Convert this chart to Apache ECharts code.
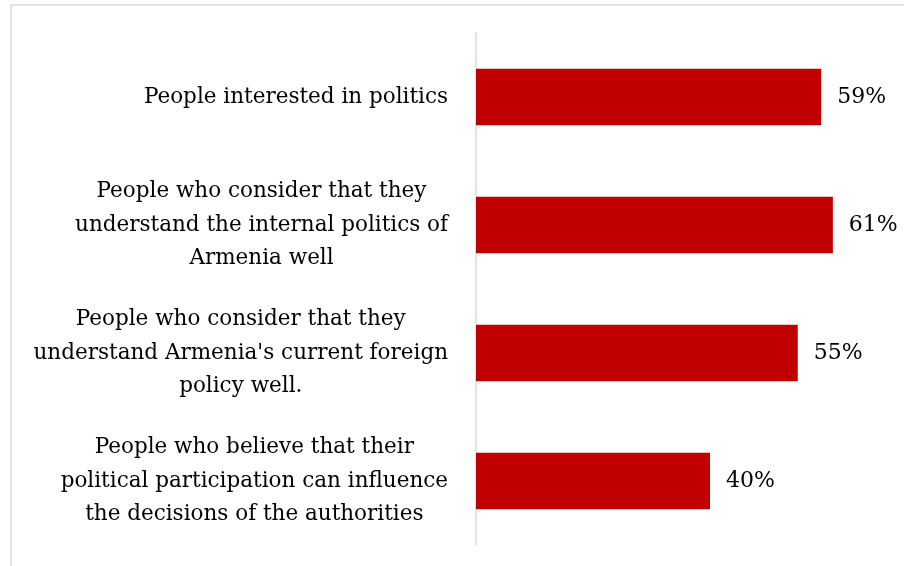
<!DOCTYPE html>
<html>
<head>
<meta charset="utf-8">
<script src="https://cdn.jsdelivr.net/npm/echarts@6/dist/echarts.min.js"></script>
<style>
  html, body { margin: 0; padding: 0; background: #ffffff; }
  #chart { width: 904px; height: 566px; }
</style>
</head>
<body>
<div id="chart"></div>
<script>
// Survey items (one line per text row of the label)
const categories = [
  'People interested in politics',
  'People who consider that they\nunderstand the internal politics of\nArmenia well',
  "People who consider that they\nunderstand Armenia's current foreign\npolicy well.",
  'People who believe that their\npolitical participation can influence\nthe decisions of the authorities'
];
// Share of respondents, %
const values = [59, 61, 55, 40];

const FONT = '"DejaVu Serif", "Liberation Serif", serif';

const chart = echarts.init(document.getElementById('chart'), null, { renderer: 'canvas' });

chart.setOption({
  animation: false,
  backgroundColor: '#ffffff',
  graphic: [{
    type: 'rect',
    left: 8.5, top: 2.5,
    shape: { width: 1000, height: 1000 },
    style: { fill: 'none', stroke: '#d9d9d9', lineWidth: 1.5 },
    silent: true
  }],
  grid: { left: 476, right: 18.5, top: 33, bottom: 21, containLabel: false },
  xAxis: {
    type: 'value',
    min: 0, max: 70,
    show: false,
    splitLine: { show: false }
  },
  yAxis: {
    type: 'category',
    data: categories,
    inverse: true,
    axisTick: { show: false },
    axisLine: { show: true, lineStyle: { color: '#d9d9d9', width: 1.5 } },
    axisLabel: {
      margin: 28,
      align: 'right',
      formatter: (v) => v.split('\n').map(s => '{c|' + s + '}').join('\n'),
      rich: {
        c: {
          align: 'center',
          fontFamily: FONT,
          fontSize: 21.5,
          lineHeight: 33.5,
          color: '#000000'
        }
      }
    }
  },
  series: [{
    type: 'bar',
    data: values,
    barCategoryGap: '56%',
    itemStyle: { color: '#c00000' },
    label: {
      show: true,
      position: 'right',
      distance: 16,
      formatter: '{c}%',
      fontFamily: FONT,
      fontSize: 22,
      color: '#000000'
    }
  }]
});
</script>
</body>
</html>
